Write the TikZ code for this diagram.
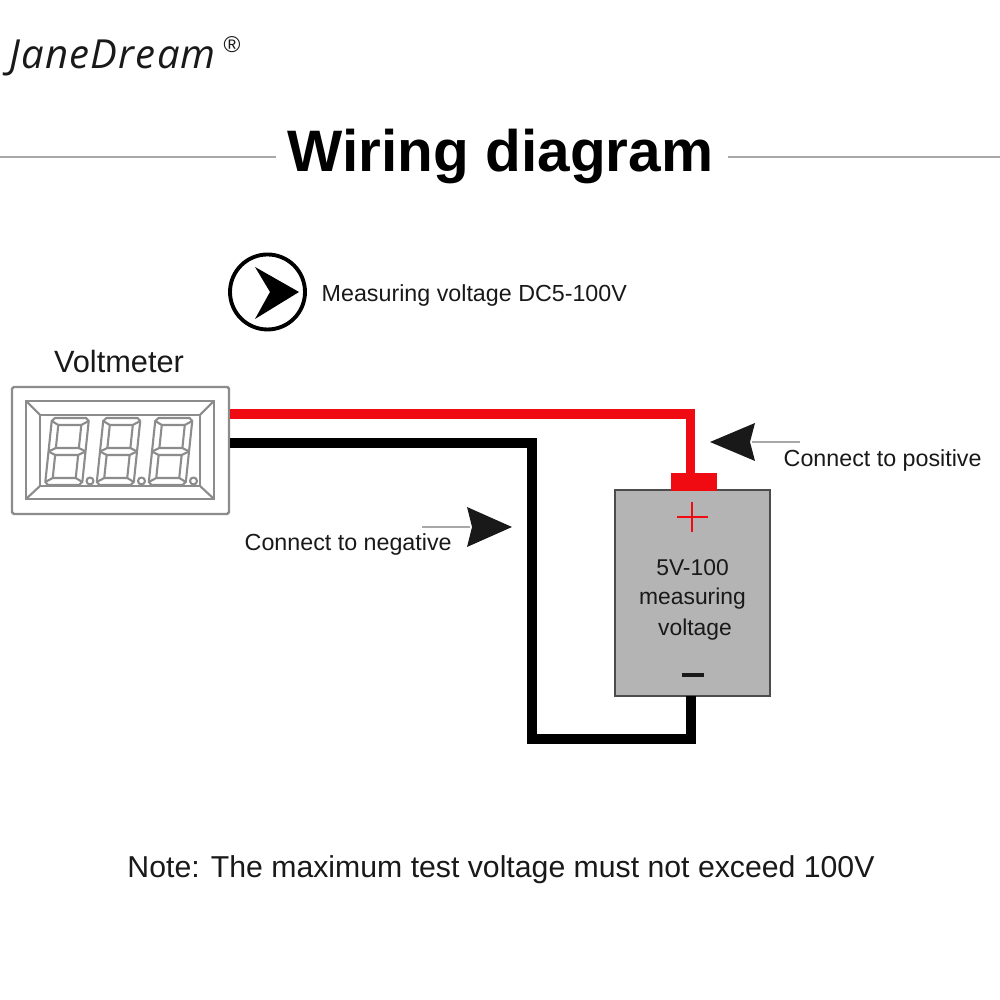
\documentclass[tikz,border=0pt]{standalone}
\usepackage{fontspec}
\setmainfont{Liberation Sans}
\newfontfamily\logofont[LetterSpace=3]{Open Sans}
\usepackage{xcolor}
\definecolor{wirered}{HTML}{F00A12}
\definecolor{boxgray}{HTML}{B4B4B4}
\definecolor{rulegray}{HTML}{A8A8A8}
\definecolor{framegray}{HTML}{8C8C8C}
\usetikzlibrary{shapes,arrows}

\begin{document}
\begin{tikzpicture}
\tikzstyle{lbl}=[font=\fontsize{6.62}{8}\selectfont,text=black!90,inner sep=0pt];
\tikzstyle{srclbl}=[lbl,font=\fontsize{6.5}{8}\selectfont];
\tikzstyle{wire}=[line width=2.7pt,line join=miter];
\tikzstyle{rulel}=[rulegray,line width=0.5pt];
\tikzstyle{pointer}=[fill=black!90,draw=none];
\tikzstyle{frame}=[framegray,line width=0.6pt];
\tikzstyle{seg}=[framegray,line width=0.6pt,line join=round];

\useasboundingbox (0,0) rectangle (10,10);
\fill[white] (0,0) rectangle (10,10);

% header
\node[inner sep=0pt,font=\logofont\itshape\fontsize{11.4}{14}\selectfont,text=black!90,anchor=west] (logo) at (0.09,9.42) {JaneDream};
\node[inner sep=0pt,font=\fontsize{6.5}{8}\selectfont,text=black!90] (reg) at (2.32,9.55) {®};
\node[inner sep=0pt,font=\bfseries\fontsize{16.65}{20}\selectfont] (title) at (5.005,8.43) {Wiring diagram};
\coordinate (ruleA) at (0,8.43);
\coordinate (ruleB) at (2.76,8.43);
\coordinate (ruleC) at (7.28,8.43);
\coordinate (ruleD) at (10,8.43);
\draw[rulel] (ruleA) -- (ruleB);
\draw[rulel] (ruleC) -- (ruleD);

% measuring symbol
\node[draw,circle,line width=1.1pt,minimum size=0.75cm,inner sep=0pt] (sym) at (2.675,7.08) {};
\fill[black] (2.99,7.08) -- (2.55,7.33) -- (2.70,7.08) -- (2.55,6.81) -- cycle;
\node[lbl,anchor=west] (mlabel) at (3.21,7.04) {Measuring voltage DC5-100V};

% voltmeter
\node[lbl,font=\fontsize{8.75}{10}\selectfont] (vlabel) at (1.19,6.38) {Voltmeter};
\node[draw=framegray,line width=0.7pt,rounded corners=0.5pt,minimum width=2.17cm,minimum height=1.27cm,inner sep=0pt] (meter) at (1.205,5.495) {};
\draw[frame] (0.26,5.01) rectangle (2.14,5.99);
\draw[frame] (0.40,5.14) rectangle (2.00,5.85);
\draw[frame] (0.26,5.99) -- (0.40,5.85);
\draw[frame] (2.14,5.99) -- (2.00,5.85);
\draw[frame] (0.26,5.01) -- (0.40,5.14);
\draw[frame] (2.14,5.01) -- (2.00,5.14);
\foreach \dx in {0,0.515,1.035}{
\begin{scope}[shift={(0.45+\dx,5.15)},xslant=0.105]
\draw[seg] (0.03,0) -- (0.34,0) -- (0.37,0.03) -- (0.37,0.64) -- (0.34,0.67) -- (0.03,0.67) -- (0,0.64) -- (0,0.03) -- cycle;
\draw[seg] (0.07,0.07) rectangle (0.30,0.30);
\draw[seg] (0.07,0.37) rectangle (0.30,0.60);
\foreach \ax/\ay/\bx/\by in {0/0.03/0.07/0.07,0.37/0.03/0.30/0.07,0/0.64/0.07/0.60,0.37/0.64/0.30/0.60,0/0.335/0.07/0.30,0/0.335/0.07/0.37,0.37/0.335/0.30/0.30,0.37/0.335/0.30/0.37}
  \draw[seg] (\ax,\ay) -- (\bx,\by);
\end{scope}
\draw[seg] (0.90+\dx,5.19) circle (0.035);
}

% source
\node[draw=black!70,fill=boxgray,line width=0.6pt,minimum width=1.55cm,minimum height=2.06cm,inner sep=0pt] (source) at (6.925,4.07) {};
\node[fill=wirered,minimum width=0.46cm,minimum height=0.18cm,inner sep=0pt] (terminal) at (6.94,5.18) {};
\node[srclbl] (srcA) at (6.925,4.32) {5V-100};
\node[srclbl] (srcB) at (6.925,4.01) {measuring};
\node[srclbl] (srcC) at (6.95,3.70) {voltage};
\draw[wirered,line width=0.8pt] (6.77,4.83) -- (7.08,4.83);
\draw[wirered,line width=0.8pt] (6.92,4.98) -- (6.92,4.68);
\draw[black!90,line width=0.9pt] (6.82,3.25) -- (7.04,3.25);

% wires
\coordinate (redout) at (2.30,5.86);
\coordinate (redin) at (6.905,5.27);
\coordinate (blackout) at (2.30,5.57);
\coordinate (blackturn) at (5.32,2.61);
\coordinate (blackin) at (6.91,3.04);
\draw[wire,wirered] (redout) -| (redin);
\draw[wire,black] (blackout) -| (blackturn) -| (blackin);

% pointers
\coordinate (posA) at (7.52,5.58);
\coordinate (posB) at (8.00,5.58);
\draw[rulel] (posA) -- (posB);
\fill[pointer] (7.10,5.58) -- (7.55,5.77) -- (7.50,5.58) -- (7.55,5.39) -- cycle;
\node[lbl,anchor=west] (poslabel) at (7.83,5.40) {Connect to positive};
\coordinate (negA) at (4.22,4.73);
\coordinate (negB) at (4.70,4.73);
\draw[rulel] (negA) -- (negB);
\fill[pointer] (5.12,4.73) -- (4.67,4.93) -- (4.72,4.73) -- (4.67,4.53) -- cycle;
\node[lbl,anchor=west] (neglabel) at (2.44,4.56) {Connect to negative};

% note
\node[lbl,font=\fontsize{8.6}{10}\selectfont] (note) at (5.01,1.30) {Note: The maximum test voltage must not exceed 100V};
\end{tikzpicture}
\end{document}
